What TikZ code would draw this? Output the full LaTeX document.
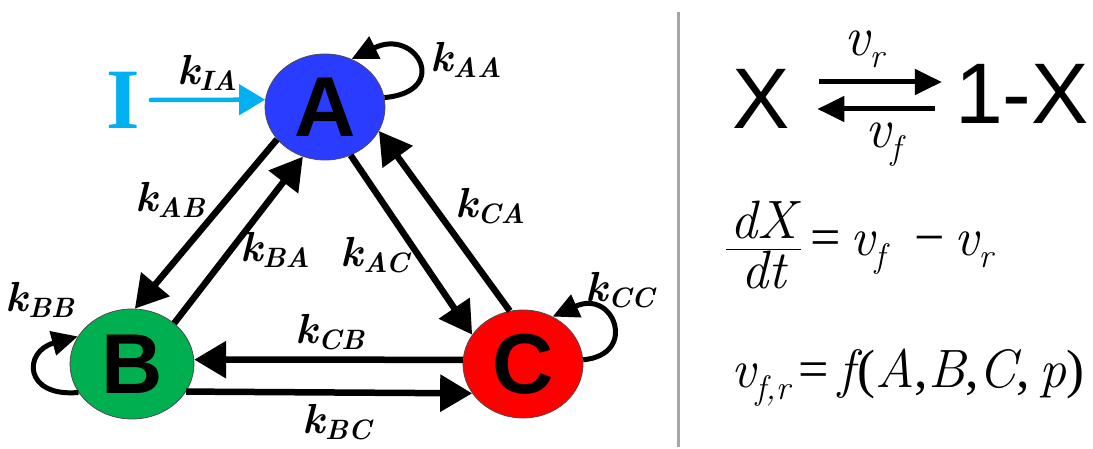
\documentclass[tikz,border=0pt]{standalone}
\usepackage{fontspec}
\setmainfont{Liberation Serif}
\newfontfamily\sansFont{Liberation Sans}
\newfontfamily\itFont{Latin Modern Roman}
\usepackage{xcolor}
\usepackage{tikz}
\usetikzlibrary{positioning,arrows.meta,shapes.geometric}
\definecolor{netBlue}{HTML}{2A3CFF}
\definecolor{netGreen}{HTML}{00B050}
\definecolor{netRed}{HTML}{FF0000}
\definecolor{netCyan}{HTML}{00B0F0}
\definecolor{divGray}{HTML}{A6A6A6}
\newcommand{\rate}[1]{{\itFont\fontsize{42}{42}\selectfont\bfseries\itshape k\raisebox{-6pt}{\fontsize{28}{28}\selectfont #1}}}
\newcommand{\iv}[1]{{\itFont\itshape #1}}
\newcommand{\flux}[1]{\iv{v}\raisebox{-12pt}{\fontsize{34}{34}\selectfont\iv{#1}}}
\tikzset{
  stateNode/.style={ellipse, draw=black!70, line width=0.8pt, inner sep=0pt,
    font=\sansFont\bfseries\fontsize{85}{85}\selectfont},
  rateArrow/.style={line width=6.5pt, -{Triangle[length=32pt,width=36pt]}},
  loopArrow/.style={line width=5pt, -{Triangle[length=26pt,width=24pt]}},
  reactArrow/.style={line width=5pt, -{Triangle[length=27pt,width=25pt]}},
  rateLabel/.style={inner sep=0pt}
}

\begin{document}
\begin{tikzpicture}[x=1pt,y=1pt]
  \useasboundingbox (0,0) rectangle (1093,-449);

  % the three states
  \node[stateNode, fill=netBlue, minimum width=120pt, minimum height=106pt] (A) at (325,-107) {A};
  \node[stateNode, fill=netGreen, minimum width=124pt, minimum height=110pt] (B) at (132,-364) {B};
  \node[stateNode, fill=netRed, minimum width=120pt, minimum height=108pt] (C) at (523,-364) {C};

  % input
  \node[inner sep=0pt, text=netCyan, font=\bfseries\fontsize{86}{86}\selectfont] (I) at (123,-100) {I};
  \draw[line width=4.5pt, netCyan, line cap=round, -{Triangle[length=26pt,width=30pt]}]
    ([xshift=11pt]I.east) -- (A.173);
  \node[rateLabel] (lblIA) at (207,-73) {\rate{IA}};

  % transitions
  \draw[rateArrow] (A.214) -- (B.87);
  \draw[rateArrow] (B.44) -- (A.246);
  \draw[rateArrow] (A.298) -- (C.150);
  \draw[rateArrow] (C.104) -- (A.336);
  \draw[rateArrow] (C.176) -- (B.4);
  \draw[rateArrow] (B.333) -- (C.210);

  % self loops
  \draw[loopArrow] (A.9) .. controls +(67,6) and +(65,32) .. (A.61);
  \draw[loopArrow] (B.208) .. controls +(-55,-5) and +(-55,-15) .. (B.153);
  \draw[loopArrow] (C.4) .. controls +(55,5) and +(62,28) .. (C.58);

  \node[rateLabel] (lblAA) at (466,-60) {\rate{AA}};
  \node[rateLabel] (lblAB) at (170,-200) {\rate{AB}};
  \node[rateLabel] (lblBA) at (275,-250) {\rate{BA}};
  \node[rateLabel] (lblAC) at (375,-255) {\rate{AC}};
  \node[rateLabel] (lblCA) at (490,-206) {\rate{CA}};
  \node[rateLabel] (lblBB) at (40,-300) {\rate{BB}};
  \node[rateLabel] (lblCC) at (620,-290) {\rate{CC}};
  \node[rateLabel] (lblCB) at (330,-332) {\rate{CB}};
  \node[rateLabel] (lblBC) at (337,-422) {\rate{BC}};

  % divider
  \coordinate (divTop) at (678,-12);
  \coordinate (divBot) at (678,-447);
  \draw[divGray, line width=3pt] (divTop) -- (divBot);

  % reaction X <-> 1-X
  \node[inner sep=0pt, font=\sansFont\fontsize{86}{86}\selectfont] (X) at (761.5,-99) {X};
  \node[inner sep=0pt, font=\sansFont\fontsize{86}{86}\selectfont] (notX) at (1022,-93.5) {1-X};
  \draw[reactArrow] ([xshift=29pt,yshift=17pt]X.east) -- ([xshift=-13pt,yshift=11.5pt]notX.west);
  \draw[reactArrow] ([xshift=-20pt,yshift=-15.5pt]notX.west) -- ([xshift=27pt,yshift=-10pt]X.east);
  \node[inner sep=0pt, font=\fontsize{56}{56}\selectfont] (vr) at (864,-49) {\flux{r}};
  \node[inner sep=0pt, font=\fontsize{56}{56}\selectfont] (vf) at (883,-145) {\flux{f}};

  % equations
  \node[anchor=west, inner sep=0pt, font=\fontsize{54}{54}\selectfont] (rateEq) at (725,-245)
    {$\displaystyle\frac{\hspace{4pt}\mbox{\iv{dX}}\hspace{4pt}}{\mbox{\iv{dt}}}$\,=\,\flux{f}\;\;−\,\flux{r}};
  \node[anchor=base west, inner sep=0pt, font=\fontsize{54}{54}\selectfont] (fluxEq) at (731,-387)
    {\flux{f,r}\,=\,\iv{f}\kern3pt(\iv{A},\iv{B},\iv{C},\,\iv{p})};
\end{tikzpicture}
\end{document}
